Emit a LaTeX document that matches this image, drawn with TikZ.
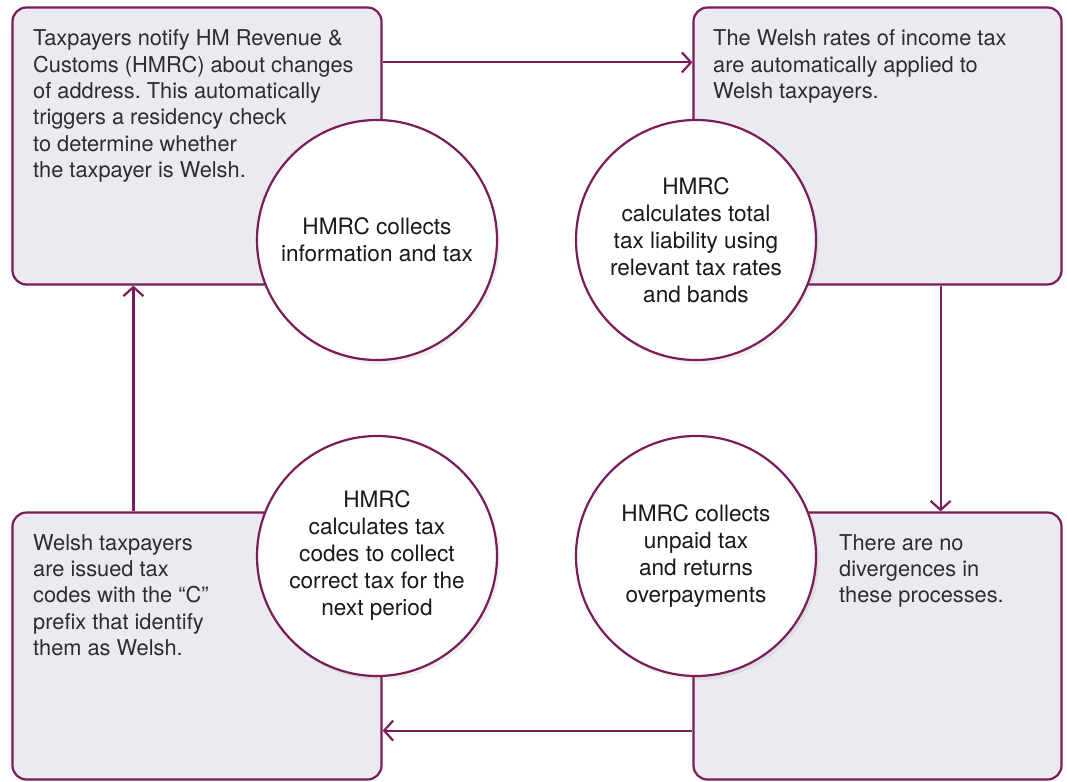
\documentclass[tikz,border=0pt]{standalone}
\usepackage{fontspec}
\setmainfont{TeX Gyre Heros}
\frenchspacing
\usetikzlibrary{arrows.meta,shadows}

\definecolor{hmrcred}{RGB}{122,28,88}
\definecolor{boxgrey}{RGB}{235,234,240}
\definecolor{boxink}{RGB}{45,45,45}

\tikzset{
    stagebox/.style={draw=hmrcred, line width=2.2pt, fill=boxgrey, rounded corners=14pt},
    stagetext/.style={anchor=north west, inner sep=0pt, align=left, text=boxink,
        font=\fontsize{21.8}{26.4}\selectfont},
    hub/.style={circle, draw=hmrcred, line width=2.2pt, fill=white, minimum size=240pt,
        align=center, text=black!90, font=\fontsize{22.6}{27}\selectfont,
        drop shadow={shadow xshift=3pt, shadow yshift=-4pt, opacity=0.12}},
    flow/.style={draw=hmrcred, line width=2.2pt, -{Straight Barb[length=9pt, width=20pt, line width=2.2pt]}}
}

\begin{document}
\begin{tikzpicture}[x=1pt, y=-1pt]
        \useasboundingbox (0,0) rectangle (1067,781);

        % --- 四つの枠 ---
        \node[stagebox, minimum width=369pt, minimum height=277pt] (tlbox) at (197,146) {};
        \node[stagebox, minimum width=368pt, minimum height=277pt] (trbox) at (877.5,146) {};
        \node[stagebox, minimum width=369pt, minimum height=267pt] (blbox) at (197,646) {};
        \node[stagebox, minimum width=368pt, minimum height=267pt] (brbox) at (877.5,646) {};

        % --- 枠の中の説明文 ---
        \node[stagetext] (tltext) at (33,29.5) {Taxpayers notify HM Revenue \&\\Customs (HMRC) about changes\\of address. This automatically\\triggers a residency check\\to determine whether\\the taxpayer is Welsh.};
        \node[stagetext] (trtext) at (713,29.5) {The Welsh rates of income tax\\are automatically applied to\\Welsh taxpayers.};
        \node[stagetext] (bltext) at (33,534) {Welsh taxpayers\\are issued tax\\codes with the “C”\\prefix that identify\\them as Welsh.};
        \node[stagetext] (brtext) at (839,534) {There are no\\divergences in\\these processes.};

        % --- 矢印 (時計回り) ---
        \draw[flow] ([yshift=-56pt]tlbox.north east) -- ([yshift=-56pt]trbox.north west);
        \draw[flow] ([xshift=-122pt]trbox.south east) -- ([xshift=-122pt]brbox.north east);
        \draw[flow] ([yshift=50pt]brbox.south west) -- ([yshift=50pt]blbox.south east);
        \draw[flow] ([xshift=122pt]blbox.north west) -- ([xshift=122pt]tlbox.south west);

        % --- 円 (HMRC の処理) ---
        \node[hub] (collect) at (377,240) {HMRC collects\\information and tax};
        \node[hub] (calc) at (696,240) {HMRC\\calculates total\\tax liability using\\relevant tax rates\\and bands};
        \node[hub] (codes) at (377,556) {HMRC\\calculates tax\\codes to collect\\correct tax for the\\next period};
        \node[hub] (unpaid) at (696,556) {HMRC collects\\unpaid tax\\and returns\\overpayments};

    \end{tikzpicture}
\end{document}
